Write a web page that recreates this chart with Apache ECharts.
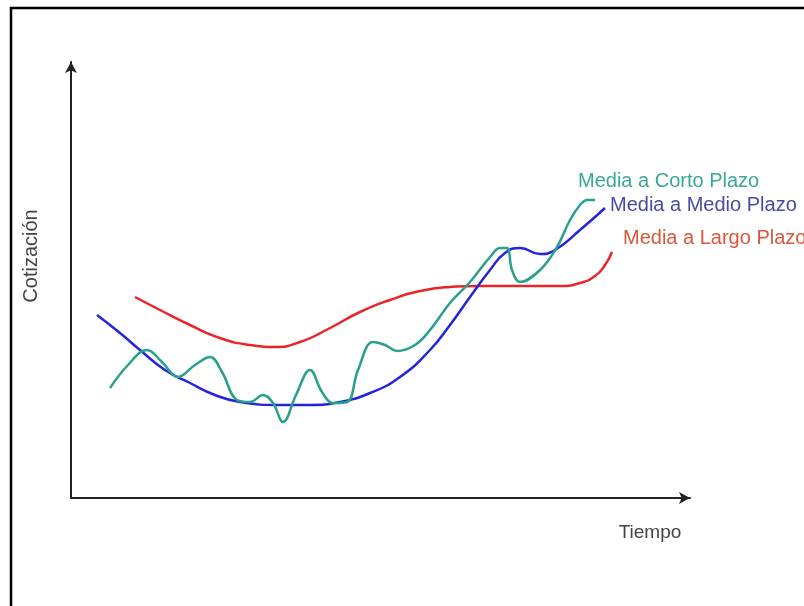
<!DOCTYPE html>
<html>
<head>
<meta charset="utf-8">
<script src="https://cdn.jsdelivr.net/npm/echarts@6/dist/echarts.min.js"></script>
<style>
html,body{margin:0;padding:0;background:#fff;}
#chart{width:804px;height:606px;}
</style>
</head>
<body>
<div id="chart"></div>
<script>
// Tiempo (x) and Cotización (y) values
var cortoX = [39,57,76,91,107,124,139,151,166,179,192,202,212,225,239,251,262,276,287,302,314,326,344,359,379,399,419,429,436,441,449,469,486,499,509,516,524];
var cortoY = [110,133,148,136,121,133,141,126,98,96,103,95,76,103,128,106,95,96,128,156,153,147,153,168,195,216,241,250,250,228,216,228,251,278,293,298,298];

var medioX = [26,49,69,94,119,144,169,209,239,269,299,329,359,379,399,419,434,449,469,484,509,534];
var medioY = [183,165,148,128,115,103,96,93,93,96,105,121,148,173,201,228,245,250,244,248,268,290];

var largoX = [64,89,119,149,179,204,229,259,289,319,349,379,409,449,489,509,524,534,541];
var largoY = [201,188,173,160,153,151,156,170,186,198,207,211,212,212,212,215,222,233,246];

var seriesNames = ['Media a Corto Plazo', 'Media a Medio Plazo', 'Media a Largo Plazo'];
var axisNames = ['Tiempo', 'Cotización'];

function pairs(xs, ys){ return xs.map(function(x,i){ return [x, ys[i]]; }); }

var FONT = '"Liberation Sans", Arial, sans-serif';
var chart = echarts.init(document.getElementById('chart'), null, {renderer:'canvas'});

function lineSeries(name, data, color, textColor, offset, smooth){
  return {
    name: name, type: 'line', data: data, smooth: smooth, symbol: 'none',
    lineStyle: {color: color, width: 2.5},
    endLabel: {
      show: true, formatter: name, color: textColor, fontFamily: FONT, fontSize: 20,
      distance: 0, offset: offset, align: 'left', verticalAlign: 'middle'
    },
    z: 3
  };
}

chart.setOption({
  animation: false,
  backgroundColor: '#ffffff',
  grid: {left: 71, top: 62, width: 619, height: 436},
  xAxis: {
    type: 'value', min: 0, max: 619,
    axisLine: {show: true, lineStyle: {color: '#222', width: 2}, symbol: ['none','arrow'], symbolSize: [9,11]},
    axisTick: {show: false}, axisLabel: {show: false}, splitLine: {show: false}
  },
  yAxis: {
    type: 'value', min: 0, max: 436,
    axisLine: {show: true, lineStyle: {color: '#222', width: 2}, symbol: ['none','arrow'], symbolSize: [9,11]},
    axisTick: {show: false}, axisLabel: {show: false}, splitLine: {show: false}
  },
  series: [
    lineSeries(seriesNames[2], pairs(largoX, largoY), '#e8262a', '#d9573a', [11,-14], 0.55),
    lineSeries(seriesNames[1], pairs(medioX, medioY), '#2424dc', '#4a4aa6', [5,-3], 0.5),
    lineSeries(seriesNames[0], pairs(cortoX, cortoY), '#27a08c', '#3aa897', [-17,-19], 0.4)
  ],
  graphic: [
    {type:'line', shape:{x1:10, y1:8, x2:804, y2:8}, style:{stroke:'#000', lineWidth:2.5}},
    {type:'line', shape:{x1:11, y1:7, x2:11, y2:606}, style:{stroke:'#000', lineWidth:2.5}},
    {type:'text', x:650, y:533, style:{text: axisNames[0], fill:'#444', font:'19px ' + FONT, textAlign:'center', textVerticalAlign:'middle'}},
    {type:'text', x:31, y:256, rotation: Math.PI/2, style:{text: axisNames[1], fill:'#444', font:'20px ' + FONT, textAlign:'center', textVerticalAlign:'middle'}}
  ]
});
</script>
</body>
</html>
